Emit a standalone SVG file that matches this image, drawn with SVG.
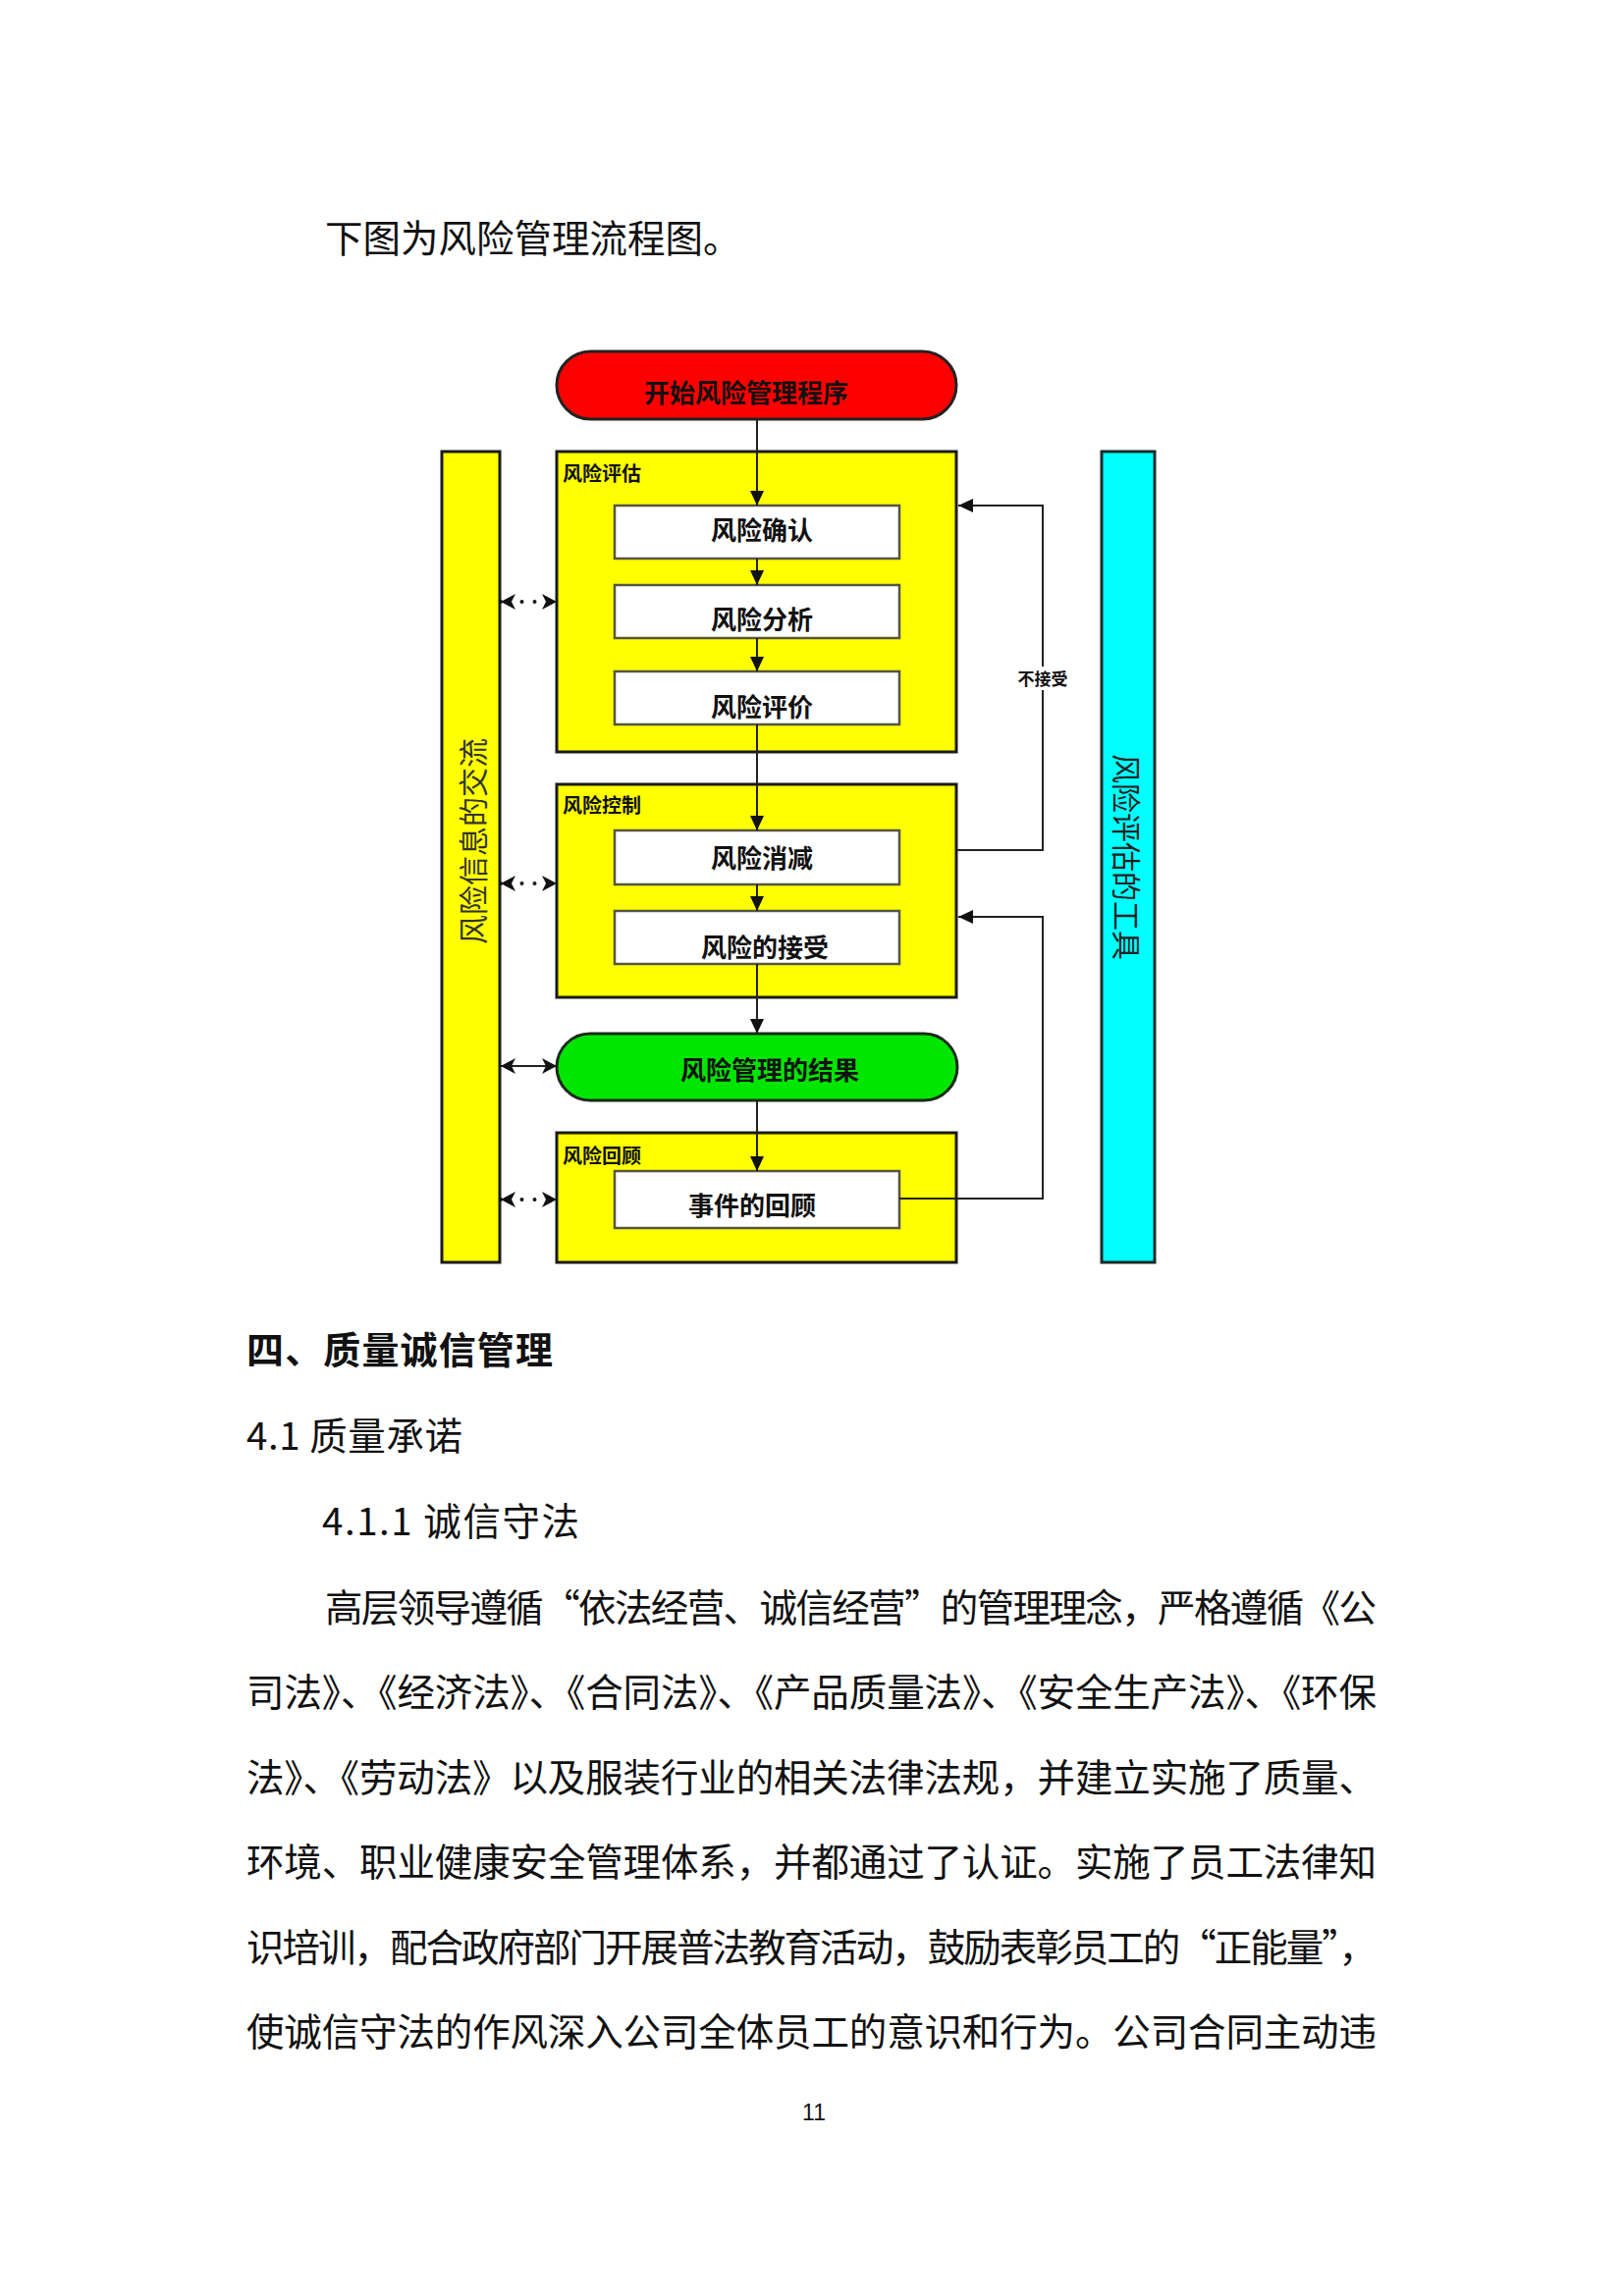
<svg xmlns="http://www.w3.org/2000/svg" width="1654" height="2339" viewBox="0 0 1654 2339">
<style>
  .cjk{font-family:"Noto Sans CJK SC","Noto Sans",sans-serif;}
  .body{font-family:"Noto Sans CJK SC","Noto Sans",sans-serif;font-size:38.5px;fill:#111;}
  .box{fill:#FFFF00;stroke:#1a1a1a;stroke-width:3;}
  .wbox{fill:#FFFFFF;stroke:#555544;stroke-width:2.5;}
  .lbl{font-family:"Noto Sans CJK SC",sans-serif;font-size:20px;font-weight:700;fill:#111;}
  .btxt{font-family:"Noto Sans CJK SC",sans-serif;font-size:26px;font-weight:700;fill:#111;text-anchor:middle;}
  .conn{fill:none;stroke:#222;stroke-width:2;}
  .dots{fill:none;stroke:#111;stroke-width:4;stroke-linecap:round;stroke-dasharray:0 21.5 0 13 0 200;}
</style>
<defs>
  <marker id="ah" markerUnits="userSpaceOnUse" markerWidth="16" markerHeight="16" refX="15" refY="7" orient="auto">
    <path d="M0,0 L15,7 L0,14 z" fill="#111"/>
  </marker>
  <marker id="dh" markerUnits="userSpaceOnUse" markerWidth="18" markerHeight="18" refX="15" refY="8" orient="auto-start-reverse">
    <path d="M0,0 L15,8 L0,16 L4,8 z" fill="#111"/>
  </marker>
</defs>
<rect width="1654" height="2339" fill="#FFFFFF"/>

<text class="body" x="331" y="257">下图为风险管理流程图。</text>

<g id="col-left">
  <rect x="450" y="460" width="59" height="826" class="box"/>
  <text class="cjk" font-size="30" fill="#333" text-anchor="middle" dominant-baseline="central" transform="translate(480,857) rotate(-90)">风险信息的交流</text>
</g>
<g id="col-right">
  <rect x="1122" y="460" width="54" height="826" fill="#00FFFF" stroke="#1a2a2a" stroke-width="3"/>
  <text class="cjk" font-size="30" fill="#222" text-anchor="middle" dominant-baseline="central" transform="translate(1149,873) rotate(90)">风险评估的工具</text>
</g>

<g id="start">
  <rect x="567" y="358" width="407" height="69" rx="34.5" fill="#FF0000" stroke="#222" stroke-width="3"/>
  <text class="btxt" x="760" y="410" fill="#2a0808">开始风险管理程序</text>
</g>

<g id="assess">
  <rect x="567" y="460" width="407" height="306" class="box"/>
  <text class="lbl" x="573" y="490">风险评估</text>
</g>
<g id="identify">
  <rect x="626" y="515" width="290" height="54" class="wbox"/>
  <text class="btxt" x="776" y="550">风险确认</text>
</g>
<g id="analyze">
  <rect x="626" y="596" width="290" height="54" class="wbox"/>
  <text class="btxt" x="776" y="641">风险分析</text>
</g>
<g id="evaluate">
  <rect x="626" y="684" width="290" height="54" class="wbox"/>
  <text class="btxt" x="776" y="730">风险评价</text>
</g>

<g id="control">
  <rect x="567" y="799" width="407" height="217" class="box"/>
  <text class="lbl" x="573" y="828">风险控制</text>
</g>
<g id="reduce">
  <rect x="626" y="846" width="290" height="55" class="wbox"/>
  <text class="btxt" x="776" y="884">风险消减</text>
</g>
<g id="accept">
  <rect x="626" y="928" width="290" height="54" class="wbox"/>
  <text class="btxt" x="779" y="975">风险的接受</text>
</g>

<g id="result">
  <rect x="567" y="1053" width="408" height="68" rx="34" fill="#00E600" stroke="#1a2a1a" stroke-width="3"/>
  <text class="btxt" x="784" y="1100">风险管理的结果</text>
</g>

<g id="review">
  <rect x="567" y="1154" width="407" height="132" class="box"/>
  <text class="lbl" x="573" y="1185">风险回顾</text>
</g>
<g id="event">
  <rect x="626" y="1193" width="290" height="58" class="wbox"/>
  <text class="btxt" x="766" y="1238">事件的回顾</text>
</g>

<g id="connectors">
  <line class="conn" x1="771" y1="427" x2="771" y2="515" marker-end="url(#ah)"/>
  <line class="conn" x1="771" y1="569" x2="771" y2="596" marker-end="url(#ah)"/>
  <line class="conn" x1="771" y1="650" x2="771" y2="684" marker-end="url(#ah)"/>
  <line class="conn" x1="771" y1="738" x2="771" y2="846" marker-end="url(#ah)"/>
  <line class="conn" x1="771" y1="901" x2="771" y2="928" marker-end="url(#ah)"/>
  <line class="conn" x1="771" y1="982" x2="771" y2="1053" marker-end="url(#ah)"/>
  <line class="conn" x1="771" y1="1121" x2="771" y2="1193" marker-end="url(#ah)"/>

  <polyline class="conn" points="974,866 1062,866 1062,515 976,515" marker-end="url(#ah)"/>
  <polyline class="conn" points="916,1221 1062,1221 1062,934 976,934" marker-end="url(#ah)"/>
  <rect x="1036" y="679" width="52" height="24" fill="#FFFFFF"/>
  <text class="cjk" x="1062" y="698" font-size="17" font-weight="700" fill="#111" text-anchor="middle">不接受</text>

  <line class="dots" x1="510" y1="613" x2="567" y2="613" marker-start="url(#dh)" marker-end="url(#dh)"/>
  <line class="dots" x1="510" y1="900" x2="567" y2="900" marker-start="url(#dh)" marker-end="url(#dh)"/>
  <line class="conn" x1="510" y1="1086" x2="567" y2="1086" stroke-width="3" marker-start="url(#dh)" marker-end="url(#dh)"/>
  <line class="dots" x1="510" y1="1222" x2="567" y2="1222" marker-start="url(#dh)" marker-end="url(#dh)"/>
</g>

<text class="cjk" x="251" y="1389" font-size="38" font-weight="700" fill="#111" textLength="312" lengthAdjust="spacing">四、质量诚信管理</text>
<text class="body" x="251" y="1477" textLength="220" lengthAdjust="spacing">4.1 质量承诺</text>
<text class="body" x="328" y="1564" textLength="262" lengthAdjust="spacing">4.1.1 诚信守法</text>

<text class="body" x="331" y="1652" textLength="1071" lengthAdjust="spacing">高层领导遵循“依法经营、诚信经营”的管理理念，严格遵循《公</text>
<text class="body" x="251" y="1738" textLength="1151" lengthAdjust="spacing">司法》、《经济法》、《合同法》、《产品质量法》、《安全生产法》、《环保</text>
<text class="body" x="251" y="1825" textLength="1151" lengthAdjust="spacing">法》、《劳动法》以及服装行业的相关法律法规，并建立实施了质量、</text>
<text class="body" x="251" y="1911" textLength="1151" lengthAdjust="spacing">环境、职业健康安全管理体系，并都通过了认证。实施了员工法律知</text>
<text class="body" x="251" y="1998" textLength="1151" lengthAdjust="spacing">识培训，配合政府部门开展普法教育活动，鼓励表彰员工的“正能量”，</text>
<text class="body" x="251" y="2084" textLength="1151" lengthAdjust="spacing">使诚信守法的作风深入公司全体员工的意识和行为。公司合同主动违</text>

<text x="829" y="2160" font-family="Liberation Sans, sans-serif" font-size="23" fill="#111" text-anchor="middle">11</text>
</svg>
